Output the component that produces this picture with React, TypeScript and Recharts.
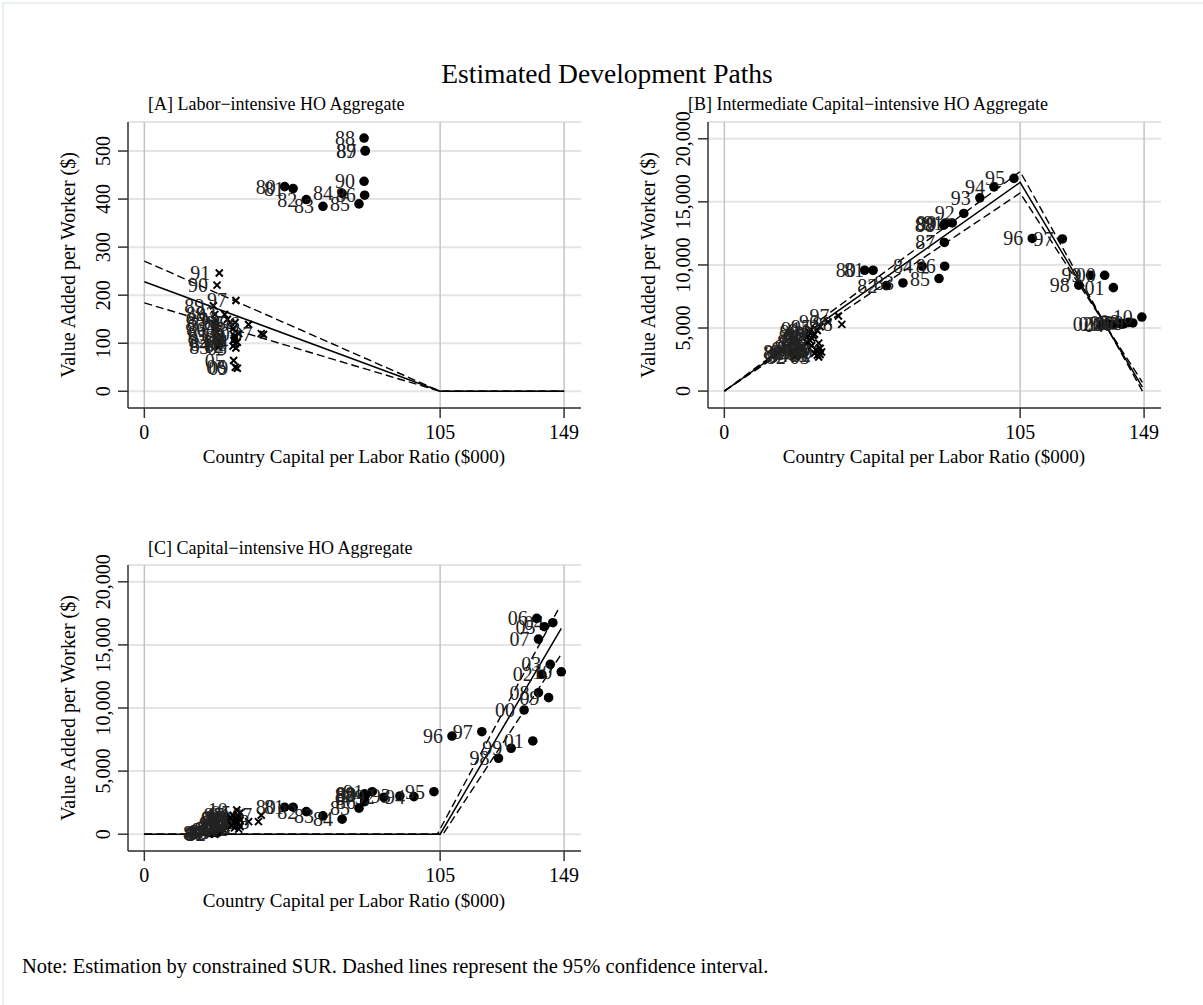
import React from "react";
import {
  ScatterChart, Scatter, XAxis, YAxis, CartesianGrid, ReferenceLine,
} from "recharts";

type Pt = { x: number; y: number; label?: string };

const FONT = "'Liberation Serif', 'DejaVu Serif', serif";
const X_TICKS = [0, 105, 149];
const A_TICKS = [0, 100, 200, 300, 400, 500];
const BC_TICKS = [0, 5000, 10000, 15000, 20000];

// [A] labor-intensive
const aCircles: Pt[] = [
  { x: 49.8, y: 426, label: "80" }, { x: 52.8, y: 422, label: "81" },
  { x: 57.5, y: 399, label: "82" }, { x: 63.4, y: 385, label: "83" },
  { x: 70.2, y: 412, label: "84" }, { x: 76.2, y: 390, label: "85" },
  { x: 78.2, y: 408, label: "86" }, { x: 78.4, y: 500, label: "87" },
  { x: 78.0, y: 527, label: "88" }, { x: 78.4, y: 501, label: "89" },
  { x: 78.0, y: 437, label: "90" },
];
const aCrosses: Pt[] = [
  { x: 24.5, y: 178, label: "89" }, { x: 25, y: 160, label: "88" },
  { x: 25.5, y: 148, label: "87" }, { x: 24.8, y: 140, label: "80" },
  { x: 25.2, y: 130, label: "86" }, { x: 25.8, y: 122, label: "81" },
  { x: 25.6, y: 112, label: "85" }, { x: 26, y: 104, label: "82" },
  { x: 26.5, y: 98, label: "84" }, { x: 26.2, y: 92, label: "83" },
  { x: 26.6, y: 246, label: "91" }, { x: 25.8, y: 221, label: "90" },
  { x: 32.5, y: 189, label: "97" }, { x: 28.5, y: 160, label: "92" },
  { x: 29.5, y: 150, label: "93" }, { x: 30.5, y: 143, label: "94" },
  { x: 32.2, y: 143, label: "95" }, { x: 37, y: 139, label: "96" },
  { x: 41.5, y: 120, label: "07" }, { x: 42.3, y: 118, label: "" },
  { x: 31.5, y: 130, label: "98" }, { x: 32, y: 115, label: "99" },
  { x: 31.8, y: 106, label: "00" }, { x: 32.3, y: 99, label: "01" },
  { x: 31.5, y: 94, label: "02" }, { x: 32.5, y: 90, label: "03" },
  { x: 33, y: 102, label: "04" }, { x: 31.7, y: 64, label: "05" },
  { x: 32.3, y: 50, label: "06" }, { x: 33, y: 48, label: "09" },
  { x: 32, y: 110, label: "08" }, { x: 33.5, y: 120, label: "10" },
];
const aFit: Pt[] = [{ x: 0, y: 228 }, { x: 105, y: 0 }, { x: 149, y: 0 }];
const aUpper: Pt[] = [{ x: 0, y: 271 }, { x: 105, y: 0 }, { x: 149, y: 0 }];
const aLower: Pt[] = [{ x: 0, y: 184 }, { x: 105, y: 0 }, { x: 149, y: 0 }];

// [B] intermediate capital-intensive
const bCircles: Pt[] = [
  { x: 49.8, y: 9580, label: "80" }, { x: 52.8, y: 9580, label: "81" },
  { x: 57.5, y: 8360, label: "82" }, { x: 63.4, y: 8570, label: "83" },
  { x: 70.2, y: 9900, label: "84" }, { x: 76.2, y: 8920, label: "85" },
  { x: 78.2, y: 9900, label: "86" }, { x: 78.1, y: 11780, label: "87" },
  { x: 77.9, y: 13150, label: "88" }, { x: 78.2, y: 13250, label: "89" },
  { x: 78.5, y: 13330, label: "90" }, { x: 80.9, y: 13330, label: "91" },
  { x: 85, y: 14080, label: "92" }, { x: 90.7, y: 15320, label: "93" },
  { x: 95.7, y: 16190, label: "94" }, { x: 102.8, y: 16860, label: "95" },
  { x: 109.3, y: 12100, label: "96" }, { x: 120, y: 12060, label: "97" },
  { x: 125.8, y: 8400, label: "98" }, { x: 130, y: 9180, label: "99" },
  { x: 135, y: 9180, label: "00" }, { x: 138.1, y: 8200, label: "01" },
  { x: 134, y: 5300, label: "02" }, { x: 136, y: 5350, label: "03" },
  { x: 138, y: 5250, label: "04" }, { x: 140, y: 5400, label: "05" },
  { x: 141, y: 5300, label: "06" }, { x: 142, y: 5350, label: "07" },
  { x: 143.5, y: 5450, label: "08" }, { x: 145, y: 5400, label: "09" },
  { x: 148.2, y: 5870, label: "10" },
];
const bCrosses: Pt[] = [
  { x: 24, y: 3100, label: "80" }, { x: 24.5, y: 3000, label: "81" },
  { x: 25, y: 2700, label: "82" }, { x: 25.5, y: 2750, label: "83" },
  { x: 26, y: 2900, label: "84" }, { x: 26.5, y: 3100, label: "85" },
  { x: 27, y: 3300, label: "86" }, { x: 28, y: 3500, label: "87" },
  { x: 29, y: 3900, label: "88" }, { x: 29.5, y: 4300, label: "89" },
  { x: 30, y: 4700, label: "90" }, { x: 30.5, y: 4900, label: "91" },
  { x: 31, y: 4200, label: "92" }, { x: 32, y: 4500, label: "93" },
  { x: 33, y: 4800, label: "94" }, { x: 34, y: 5100, label: "95" },
  { x: 36.8, y: 5480, label: "96" }, { x: 40.5, y: 5950, label: "97" },
  { x: 41.7, y: 5290, label: "98" }, { x: 33.5, y: 3800, label: "99" },
  { x: 34, y: 3400, label: "00" }, { x: 33, y: 3200, label: "01" },
  { x: 34, y: 2900, label: "02" }, { x: 33.5, y: 2700, label: "03" },
  { x: 32, y: 3000, label: "04" }, { x: 31, y: 3600, label: "05" },
  { x: 30.5, y: 4000, label: "06" }, { x: 31.5, y: 4400, label: "07" },
  { x: 32.5, y: 3300, label: "08" }, { x: 33, y: 2850, label: "09" },
  { x: 34.5, y: 3100, label: "10" },
];
const bFit: Pt[] = [{ x: 0, y: 0 }, { x: 105, y: 16540 }, { x: 148.4, y: 320 }];
const bUpper: Pt[] = [{ x: 0, y: 0 }, { x: 105, y: 17400 }, { x: 148.4, y: 0 }];
const bLower: Pt[] = [{ x: 0, y: 0 }, { x: 105, y: 15700 }, { x: 148.4, y: 700 }];

// [C] capital-intensive
const cCircles: Pt[] = [
  { x: 49.8, y: 2140, label: "80" }, { x: 52.8, y: 2140, label: "81" },
  { x: 57.5, y: 1790, label: "82" }, { x: 63.4, y: 1450, label: "83" },
  { x: 70.2, y: 1190, label: "84" }, { x: 76.2, y: 2060, label: "85" },
  { x: 78.2, y: 2580, label: "86" }, { x: 78.1, y: 2900, label: "87" },
  { x: 77.9, y: 3100, label: "88" }, { x: 78.2, y: 3200, label: "89" },
  { x: 78.5, y: 3110, label: "90" }, { x: 80.9, y: 3370, label: "91" },
  { x: 85, y: 2930, label: "92" }, { x: 90.7, y: 3030, label: "93" },
  { x: 95.7, y: 2980, label: "94" }, { x: 102.8, y: 3370, label: "95" },
  { x: 109.2, y: 7780, label: "96" }, { x: 119.8, y: 8120, label: "97" },
  { x: 125.7, y: 6020, label: "98" }, { x: 130.2, y: 6810, label: "99" },
  { x: 134.8, y: 9840, label: "00" }, { x: 137.9, y: 7390, label: "01" },
  { x: 141.1, y: 12670, label: "02" }, { x: 144.1, y: 13460, label: "03" },
  { x: 145, y: 16760, label: "04" }, { x: 142, y: 16440, label: "05" },
  { x: 139.3, y: 17100, label: "06" }, { x: 139.9, y: 15460, label: "07" },
  { x: 139.9, y: 11210, label: "08" }, { x: 143.5, y: 10820, label: "09" },
  { x: 148, y: 12870, label: "10" },
];
const cCrosses: Pt[] = [
  { x: 24, y: 100, label: "80" }, { x: 24.5, y: 50, label: "81" },
  { x: 25, y: 0, label: "82" }, { x: 25.5, y: 80, label: "83" },
  { x: 26, y: 150, label: "84" }, { x: 26.5, y: 200, label: "85" },
  { x: 27, y: 300, label: "86" }, { x: 28, y: 400, label: "87" },
  { x: 29, y: 500, label: "88" }, { x: 29.5, y: 700, label: "89" },
  { x: 30, y: 900, label: "90" }, { x: 30.5, y: 1200, label: "91" },
  { x: 31, y: 1000, label: "92" }, { x: 32, y: 1300, label: "93" },
  { x: 33, y: 1500, label: "94" }, { x: 34, y: 1700, label: "95" },
  { x: 37, y: 1000, label: "96" }, { x: 41.5, y: 1500, label: "07" },
  { x: 40.5, y: 1000, label: "98" }, { x: 33.5, y: 1400, label: "99" },
  { x: 34, y: 1100, label: "00" }, { x: 33, y: 900, label: "01" },
  { x: 34, y: 600, label: "02" }, { x: 33.5, y: 400, label: "03" },
  { x: 32, y: 500, label: "04" }, { x: 31, y: 700, label: "05" },
  { x: 30.5, y: 1300, label: "06" }, { x: 31.5, y: 1500, label: "97" },
  { x: 32.5, y: 1200, label: "08" }, { x: 33, y: 1000, label: "09" },
  { x: 32.8, y: 1920, label: "10" },
];
const cFit: Pt[] = [{ x: 0, y: 0 }, { x: 105, y: 0 }, { x: 148, y: 16300 }];
const cUpper: Pt[] = [{ x: 0, y: 0 }, { x: 104, y: 0 }, { x: 146.8, y: 17760 }];
const cLower: Pt[] = [{ x: 0, y: 0 }, { x: 106, y: 0 }, { x: 148.2, y: 14330 }];

const Dot = (p: any) => (
  <g>
    <circle cx={p.cx} cy={p.cy} r={4.8} fill="#000" />
    <text x={p.cx - 9} y={p.cy + 7} textAnchor="end" fontSize={20} fontFamily={FONT} fill="#222">
      {p.payload.label}
    </text>
  </g>
);

const Cross = (p: any) => {
  const { cx, cy } = p;
  const s = 3.5;
  return (
    <g>
      <path
        d={`M${cx - s},${cy - s}L${cx + s},${cy + s}M${cx - s},${cy + s}L${cx + s},${cy - s}`}
        stroke="#000" strokeWidth={2}
      />
      <text x={cx - 9} y={cy + 7} textAnchor="end" fontSize={20} fontFamily={FONT} fill="#222">
        {p.payload.label}
      </text>
    </g>
  );
};

const NoShape = () => <g />;

const fmt = (v: number) => v.toLocaleString("en-US");

const XTick = (p: any) => (
  <text x={p.x} y={p.y + 19} textAnchor="middle" fontSize={20} fontFamily={FONT} fill="#000">
    {p.payload.value}
  </text>
);

const YTick = (p: any) => {
  const bx = p.x - 6;
  return (
    <text
      x={bx} y={p.y} textAnchor="middle" fontSize={20} fontFamily={FONT} fill="#000"
      transform={`rotate(-90, ${bx}, ${p.y})`}
    >
      {fmt(p.payload.value)}
    </text>
  );
};

interface PanelProps {
  left: number;
  top: number;
  circles: Pt[];
  crosses: Pt[];
  fit: Pt[];
  upper: Pt[];
  lower: Pt[];
  yDomain: [number, number];
  yTicks: number[];
}

function Panel({ left, top, circles, crosses, fit, upper, lower, yDomain, yTicks }: PanelProps) {
  const axisStyle = { stroke: "#333", strokeWidth: 1.5 };
  const dash = { stroke: "#000", strokeWidth: 1.4, strokeDasharray: "8 4" };
  return (
    <div style={{ position: "absolute", left, top, width: 600, height: 480 }}>
      <ScatterChart width={600} height={480} margin={{ top: 122, right: 19, bottom: 22, left: 0 }}>
        <CartesianGrid vertical={false} stroke="#e4e4e4" strokeWidth={2} />
        {X_TICKS.map((t) => (
          <ReferenceLine key={t} x={t} stroke="#c4c4c4" strokeWidth={1.5} />
        ))}
        <XAxis
          type="number" dataKey="x" domain={[-5.8, 155]} ticks={X_TICKS} interval={0}
          allowDataOverflow height={50} tickSize={10} axisLine={axisStyle} tickLine={axisStyle}
          tick={<XTick />}
        />
        <YAxis
          type="number" dataKey="y" domain={yDomain} ticks={yTicks} interval={0}
          allowDataOverflow width={128} tickSize={10} axisLine={axisStyle} tickLine={axisStyle}
          tick={<YTick />}
        />
        <Scatter data={upper} shape={NoShape} line={dash} isAnimationActive={false} />
        <Scatter data={lower} shape={NoShape} line={dash} isAnimationActive={false} />
        <Scatter data={fit} shape={NoShape} line={{ stroke: "#000", strokeWidth: 1.5 }} isAnimationActive={false} />
        <Scatter data={crosses} shape={Cross} isAnimationActive={false} />
        <Scatter data={circles} shape={Dot} isAnimationActive={false} />
      </ScatterChart>
    </div>
  );
}

const YTitle = ({ x, y }: { x: number; y: number }) => (
  <text x={x} y={y} textAnchor="middle" fontSize={20} fontFamily={FONT} transform={`rotate(-90, ${x}, ${y})`}>
    Value Added per Worker ($)
  </text>
);

export default function App() {
  const t = { fontFamily: FONT, fill: "#000" };
  return (
    <div style={{ position: "absolute", left: 0, top: 0, width: 1203, height: 1005, background: "#fff" }}>
      <svg width={1203} height={1005} style={{ position: "absolute", left: 0, top: 0 }}>
        <line x1={3} y1={3} x2={1203} y2={3} stroke="#e3eaec" strokeWidth={1.5} />
        <line x1={3} y1={3} x2={3} y2={1005} stroke="#e3eaec" strokeWidth={1.5} />
        <text x={607} y={83} textAnchor="middle" fontSize={27.5} {...t}>Estimated Development Paths</text>
        <text x={148} y={110} fontSize={18} {...t}>[A] Labor−intensive HO Aggregate</text>
        <text x={688} y={110} fontSize={18} {...t}>[B] Intermediate Capital−intensive HO Aggregate</text>
        <text x={148} y={554} fontSize={18} {...t}>[C] Capital−intensive HO Aggregate</text>
        <text x={354} y={463} textAnchor="middle" fontSize={19} {...t}>Country Capital per Labor Ratio ($000)</text>
        <text x={934} y={463} textAnchor="middle" fontSize={19} {...t}>Country Capital per Labor Ratio ($000)</text>
        <text x={354} y={907} textAnchor="middle" fontSize={19} {...t}>Country Capital per Labor Ratio ($000)</text>
        <YTitle x={75} y={265} />
        <YTitle x={655} y={265} />
        <YTitle x={75} y={708} />
        <text x={22} y={973} fontSize={20.5} {...t}>
          Note: Estimation by constrained SUR. Dashed lines represent the 95% confidence interval.
        </text>
      </svg>
      <Panel left={0} top={0} circles={aCircles} crosses={aCrosses} fit={aFit} upper={aUpper} lower={aLower}
        yDomain={[-34.8, 560.4]} yTicks={A_TICKS} />
      <Panel left={580} top={0} circles={bCircles} crosses={bCrosses} fit={bFit} upper={bUpper} lower={bLower}
        yDomain={[-1340, 21330]} yTicks={BC_TICKS} />
      <Panel left={0} top={443} circles={cCircles} crosses={cCrosses} fit={cFit} upper={cUpper} lower={cLower}
        yDomain={[-1330, 21330]} yTicks={BC_TICKS} />
    </div>
  );
}
